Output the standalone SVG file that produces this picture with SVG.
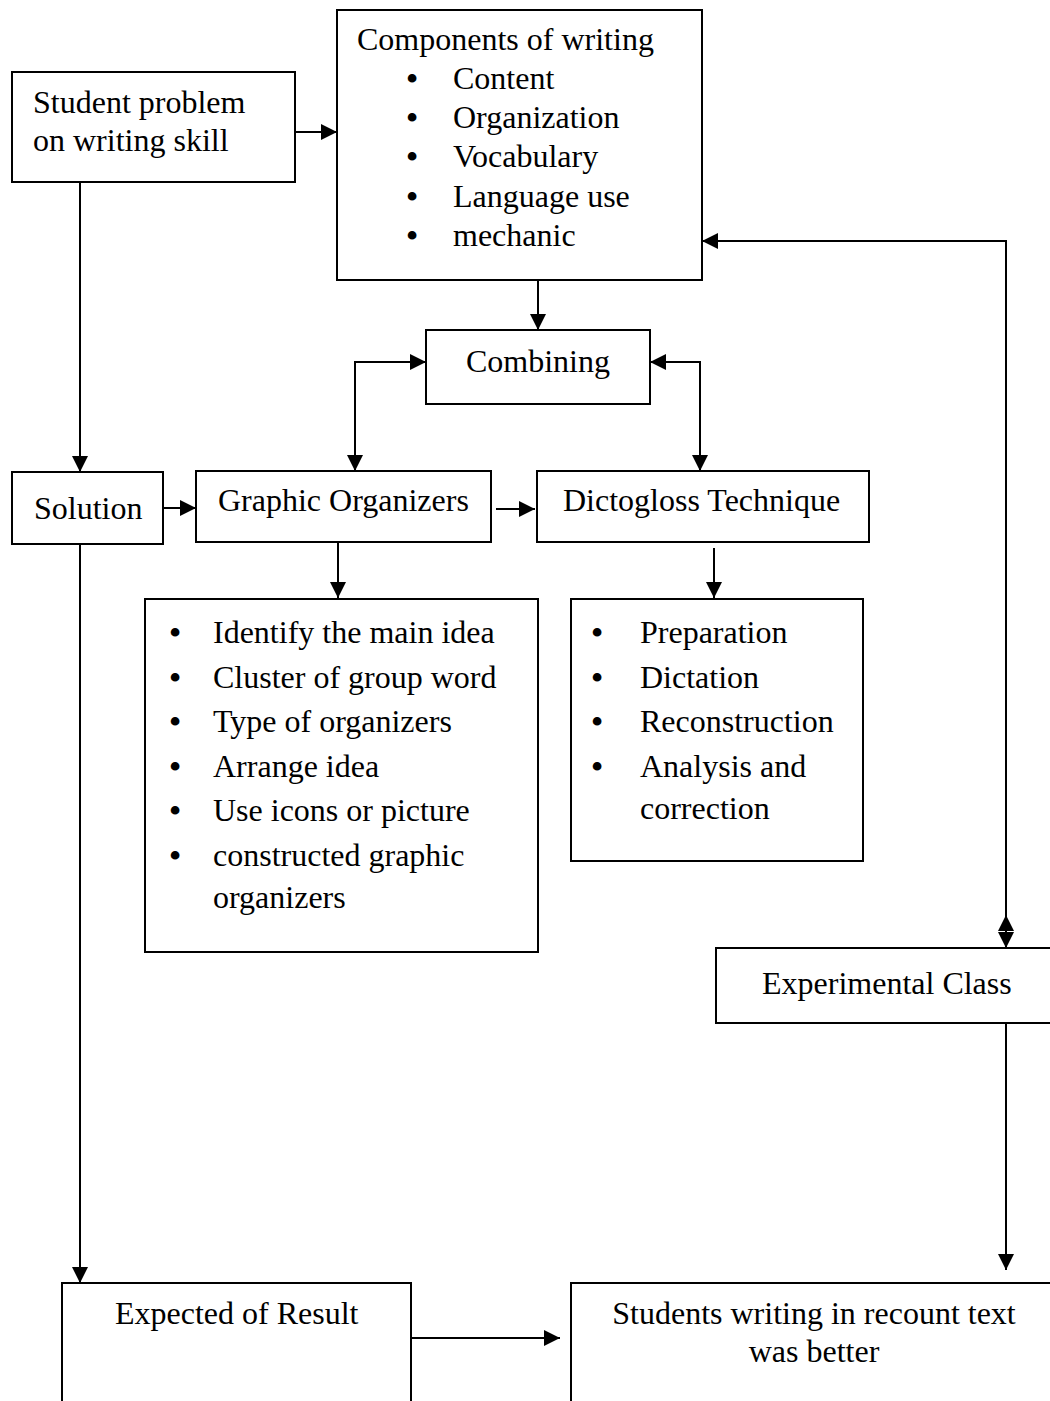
<svg xmlns="http://www.w3.org/2000/svg" width="1050" height="1401" viewBox="0 0 1050 1401">
<defs>
<marker id="ah" viewBox="0 0 10 10" refX="10" refY="5" markerWidth="16" markerHeight="16" markerUnits="userSpaceOnUse" orient="auto-start-reverse">
<path d="M0,0 L10,5 L0,10 z" fill="#000"/>
</marker>
<style>
.box{fill:#fff;stroke:#000;stroke-width:2}
.t{font-family:"Liberation Serif","Times New Roman",serif;font-size:32px;fill:#000}
.b{font-family:"Liberation Serif","Times New Roman",serif;font-size:32px;font-weight:bold;fill:#000;text-anchor:middle}
.c{stroke:#000;stroke-width:2;fill:none}
</style>
</defs>
<rect width="1050" height="1401" fill="#fff"/>
<g id="connectors">
<path class="c" d="M295,132 H337" marker-end="url(#ah)"/>
<path class="c" d="M538,280 V330" marker-end="url(#ah)"/>
<path class="c" d="M80,182 V472" marker-end="url(#ah)"/>
<path class="c" d="M163,508 H196" marker-end="url(#ah)"/>
<path class="c" d="M496,509 H535" marker-end="url(#ah)"/>
<path class="c" d="M355,471 V362 H426" marker-start="url(#ah)" marker-end="url(#ah)"/>
<path class="c" d="M650,362 H700 V471" marker-start="url(#ah)" marker-end="url(#ah)"/>
<path class="c" d="M338,540 V598" marker-end="url(#ah)"/>
<path class="c" d="M714,548 V598" marker-end="url(#ah)"/>
<path class="c" d="M1006,948 V241 H702" marker-start="url(#ah)" marker-end="url(#ah)"/>
<path class="c" d="M1006,935 V915" marker-end="url(#ah)"/>
<path class="c" d="M1006,1023 V1270" marker-end="url(#ah)"/>
<path class="c" d="M80,544 V1283" marker-end="url(#ah)"/>
<path class="c" d="M411,1338 H560" marker-end="url(#ah)"/>
</g>
<g id="student-problem">
<rect class="box" x="12" y="72" width="283" height="110"/>
<text class="t" x="33" y="113">Student problem</text>
<text class="t" x="33" y="151">on writing skill</text>
</g>
<g id="components">
<rect class="box" x="337" y="10" width="365" height="270"/>
<text class="t" x="357" y="50">Components of writing</text>
<text class="b" x="412" y="89">•</text><text class="t" x="453" y="89">Content</text>
<text class="b" x="412" y="128">•</text><text class="t" x="453" y="128">Organization</text>
<text class="b" x="412" y="167">•</text><text class="t" x="453" y="167">Vocabulary</text>
<text class="b" x="412" y="207">•</text><text class="t" x="453" y="207">Language use</text>
<text class="b" x="412" y="246">•</text><text class="t" x="453" y="246">mechanic</text>
</g>
<g id="combining">
<rect class="box" x="426" y="330" width="224" height="74"/>
<text class="t" x="538" y="372" text-anchor="middle">Combining</text>
</g>
<g id="solution">
<rect class="box" x="12" y="472" width="151" height="72"/>
<text class="t" x="34" y="519">Solution</text>
</g>
<g id="graphic-organizers">
<rect class="box" x="196" y="471" width="295" height="71"/>
<text class="t" x="218" y="511">Graphic Organizers</text>
</g>
<g id="dictogloss">
<rect class="box" x="537" y="471" width="332" height="71"/>
<text class="t" x="563" y="511">Dictogloss Technique</text>
</g>
<g id="go-steps">
<rect class="box" x="145" y="599" width="393" height="353"/>
<text class="b" x="175" y="643">•</text><text class="t" x="213" y="643">Identify the main idea</text>
<text class="b" x="175" y="688">•</text><text class="t" x="213" y="688">Cluster of group word</text>
<text class="b" x="175" y="732">•</text><text class="t" x="213" y="732">Type of organizers</text>
<text class="b" x="175" y="777">•</text><text class="t" x="213" y="777">Arrange idea</text>
<text class="b" x="175" y="821">•</text><text class="t" x="213" y="821">Use icons or picture</text>
<text class="b" x="175" y="866">•</text><text class="t" x="213" y="866">constructed graphic</text>
<text class="t" x="213" y="908">organizers</text>
</g>
<g id="dicto-steps">
<rect class="box" x="571" y="599" width="292" height="262"/>
<text class="b" x="597" y="643">•</text><text class="t" x="640" y="643">Preparation</text>
<text class="b" x="597" y="688">•</text><text class="t" x="640" y="688">Dictation</text>
<text class="b" x="597" y="732">•</text><text class="t" x="640" y="732">Reconstruction</text>
<text class="b" x="597" y="777">•</text><text class="t" x="640" y="777">Analysis and</text>
<text class="t" x="640" y="819">correction</text>
</g>
<g id="experimental-class">
<rect class="box" x="716" y="948" width="340" height="75"/>
<text class="t" x="762" y="994">Experimental Class</text>
</g>
<g id="expected-result">
<rect class="box" x="62" y="1283" width="349" height="130"/>
<text class="t" x="115" y="1324">Expected of Result</text>
</g>
<g id="students-writing">
<rect class="box" x="571" y="1283" width="490" height="130"/>
<text class="t" x="814" y="1324" text-anchor="middle">Students writing in recount text</text>
<text class="t" x="814" y="1362" text-anchor="middle">was better</text>
</g>
</svg>
